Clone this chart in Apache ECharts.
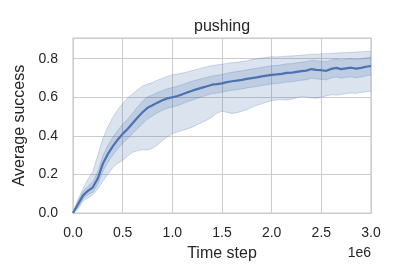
<!DOCTYPE html>
<html>
<head>
<meta charset="utf-8">
<script src="https://cdn.jsdelivr.net/npm/echarts@6/dist/echarts.min.js"></script>
<style>html,body{margin:0;padding:0;background:#fff}#c{width:400px;height:280px}</style>
</head>
<body>
<div id="c"></div>
<script>
// Time steps in millions (axis shows x1e6)
var steps = [0.00,0.05,0.10,0.15,0.20,0.25,0.30,0.35,0.40,0.45,0.50,0.55,0.60,0.65,0.70,0.75,0.80,0.85,0.90,0.95,
  1.00,1.05,1.10,1.15,1.20,1.25,1.30,1.35,1.40,1.45,1.50,1.55,1.60,1.65,1.70,1.75,1.80,1.85,1.90,1.95,
  2.00,2.05,2.10,2.15,2.20,2.25,2.30,2.35,2.40,2.45,2.50,2.55,2.60,2.65,2.70,2.75,2.80,2.85,2.90,2.95,3.00];
var meanSuccess = [0.000,0.045,0.090,0.115,0.133,0.180,0.255,0.305,0.345,0.380,0.410,0.435,0.465,0.495,0.522,0.545,0.558,0.572,0.584,0.594,
  0.600,0.606,0.615,0.625,0.634,0.642,0.650,0.657,0.665,0.668,0.672,0.678,0.683,0.686,0.690,0.695,0.699,0.703,0.708,0.712,
  0.716,0.718,0.721,0.726,0.727,0.731,0.735,0.738,0.746,0.742,0.740,0.737,0.747,0.752,0.746,0.750,0.753,0.748,0.752,0.758,0.762];
var innerLow = [0.000,0.030,0.072,0.095,0.108,0.148,0.215,0.262,0.300,0.333,0.362,0.385,0.412,0.438,0.462,0.487,0.503,0.520,0.533,0.543,
  0.550,0.556,0.566,0.576,0.585,0.594,0.603,0.611,0.619,0.622,0.626,0.632,0.636,0.639,0.643,0.648,0.652,0.656,0.661,0.665,
  0.669,0.671,0.674,0.679,0.680,0.684,0.688,0.691,0.699,0.695,0.693,0.690,0.700,0.705,0.699,0.703,0.706,0.701,0.705,0.711,0.715];
var innerHigh = [0.002,0.058,0.110,0.138,0.162,0.215,0.295,0.350,0.392,0.428,0.460,0.486,0.518,0.550,0.580,0.602,0.612,0.624,0.634,0.644,
  0.650,0.657,0.665,0.674,0.683,0.690,0.697,0.703,0.710,0.714,0.718,0.724,0.729,0.733,0.737,0.742,0.746,0.750,0.755,0.759,
  0.763,0.765,0.768,0.773,0.774,0.778,0.782,0.785,0.792,0.789,0.787,0.784,0.793,0.798,0.793,0.797,0.800,0.795,0.799,0.804,0.808];
var outerLow = [0.000,0.020,0.062,0.078,0.095,0.125,0.165,0.200,0.235,0.258,0.272,0.295,0.315,0.322,0.328,0.326,0.335,0.352,0.375,0.395,
  0.412,0.420,0.428,0.436,0.445,0.458,0.470,0.482,0.498,0.518,0.527,0.522,0.516,0.520,0.528,0.536,0.548,0.558,0.566,0.575,
  0.582,0.586,0.588,0.586,0.590,0.597,0.604,0.602,0.597,0.595,0.601,0.607,0.613,0.611,0.615,0.619,0.622,0.620,0.625,0.628,0.632];
var outerHigh = [0.004,0.070,0.125,0.175,0.215,0.300,0.385,0.445,0.495,0.535,0.568,0.595,0.618,0.638,0.658,0.668,0.676,0.688,0.698,0.708,
  0.716,0.720,0.725,0.731,0.738,0.745,0.752,0.758,0.764,0.768,0.771,0.775,0.779,0.781,0.785,0.789,0.795,0.799,0.803,0.807,
  0.810,0.809,0.811,0.813,0.814,0.816,0.818,0.820,0.823,0.822,0.825,0.826,0.827,0.829,0.830,0.832,0.833,0.834,0.836,0.837,0.838];
var yTicks = [0.0,0.2,0.4,0.6,0.8];
var xTicks = [0.0,0.5,1.0,1.5,2.0,2.5,3.0];

var SCALE = 1e6;
function pairs(arr){ return steps.map(function(s,i){ return [s*SCALE, arr[i]]; }); }

var FONT = '"Liberation Sans", Arial, "DejaVu Sans", sans-serif';
var TXT = '#262626';
var BLUE = '#4c72b0';
var BAND = 'rgba(76,114,176,0.2)';
var EDGE = 'rgba(76,114,176,0.25)';

var chart = echarts.init(document.getElementById('c'), null, {renderer:'canvas'});

function bandPolygon(name, lo, hi){
  return {name:name, type:'custom', silent:true, z:2, clip:true,
    data:[[0, 0]],
    renderItem:function(params, api){
      var pts = [];
      for (var i = 0; i < steps.length; i++) pts.push(api.coord([steps[i]*SCALE, hi[i]]));
      for (var j = steps.length - 1; j >= 0; j--) pts.push(api.coord([steps[j]*SCALE, lo[j]]));
      return {type:'polygon', shape:{points:pts}, style:{fill:BAND, stroke:null}};
    }};
}
function edgeLine(name, arr){
  return {name:name, type:'line', data:pairs(arr), symbol:'none', silent:true,
    lineStyle:{color:EDGE, width:1}, z:3};
}

chart.setOption({
  animation:false,
  grid:{left:73, right:29, top:38, bottom:67, show:true, borderColor:'#cccccc', borderWidth:1.25},
  xAxis:{type:'value', min:0, max:3*SCALE, interval:0.5*SCALE,
    axisLine:{show:false}, axisTick:{show:false},
    axisLabel:{color:TXT, fontSize:14, fontFamily:FONT, margin:13,
      formatter:function(v){ var t = v/SCALE; return xTicks.indexOf(Math.round(t*10)/10) >= 0 ? t.toFixed(1) : ''; }},
    splitLine:{show:true, lineStyle:{color:'#cccccc', width:1}},
    name:'Time step', nameLocation:'middle', nameGap:33,
    nameTextStyle:{color:TXT, fontSize:16, fontFamily:FONT}},
  yAxis:{type:'value', min:0, max:0.907, interval:0.2,
    axisLine:{show:false}, axisTick:{show:false},
    axisLabel:{color:TXT, fontSize:14, fontFamily:FONT, margin:15, showMaxLabel:false,
      formatter:function(v){ return yTicks.indexOf(Math.round(v*10)/10) >= 0 ? v.toFixed(1) : ''; }},
    splitLine:{show:true, lineStyle:{color:'#cccccc', width:1}},
    name:'Average success', nameLocation:'middle', nameGap:38,
    nameTextStyle:{color:TXT, fontSize:16, fontFamily:FONT}},
  graphic:[
    {type:'text', x:222, y:19, style:{text:'pushing', fill:TXT, font:'16px ' + FONT, textAlign:'center', textVerticalAlign:'top'}},
    {type:'text', x:371, y:246, style:{text:'1e6', fill:TXT, font:'14px ' + FONT, textAlign:'right', textVerticalAlign:'top'}}
  ],
  series:[
    bandPolygon('outerBand', outerLow, outerHigh),
    bandPolygon('innerBand', innerLow, innerHigh),
    edgeLine('outerLowEdge', outerLow),
    edgeLine('outerHighEdge', outerHigh),
    edgeLine('innerLowEdge', innerLow),
    edgeLine('innerHighEdge', innerHigh),
    {name:'mean', type:'line', data:pairs(meanSuccess), symbol:'none', silent:true,
      lineStyle:{color:BLUE, width:2.2}, z:5}
  ]
});
</script>
</body>
</html>
